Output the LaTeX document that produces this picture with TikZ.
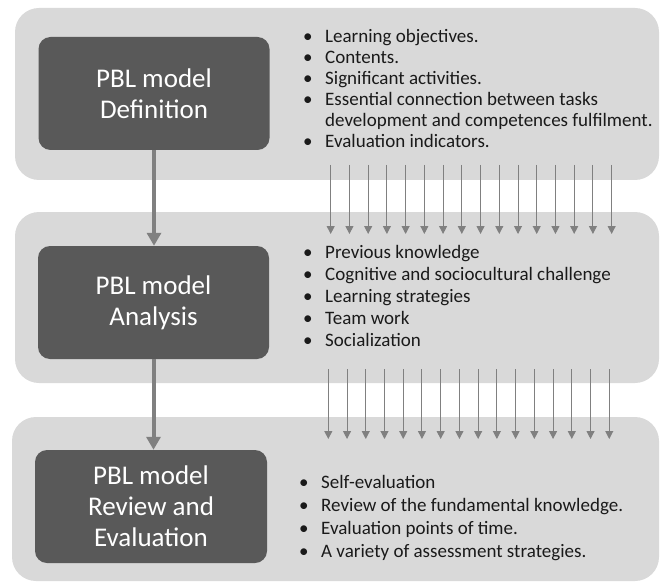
\documentclass[tikz,border=0pt]{standalone}
\usepackage{fontspec}
\setmainfont{Carlito}
\usetikzlibrary{arrows.meta}
\definecolor{panelgray}{HTML}{D9D9D9}
\definecolor{boxgray}{HTML}{595959}
\definecolor{arrowgray}{HTML}{808080}
\definecolor{textdark}{HTML}{1A1A1A}
\newcommand\mybullet{\makebox[0pt][r]{\textbullet\hspace{12.5pt}}}

\begin{document}
\begin{tikzpicture}[x=1pt,y=-1pt,
  panel/.style={fill=panelgray, rounded corners=24pt, inner sep=0pt, minimum width=644pt},
  stage/.style={fill=boxgray, rounded corners=12pt, text=white, align=center,
    font=\fontsize{27}{31}\selectfont, minimum width=231pt, minimum height=113pt, inner sep=0pt},
  flow/.style={draw=arrowgray, line width=4pt, -{Triangle[length=13pt,width=14pt]}},
  feed/.style={draw=arrowgray, line width=1pt, -{Triangle[length=8pt,width=8pt]}},
  item/.style={anchor=base west, inner sep=0pt, text=textdark, font=\fontsize{19}{22}\selectfont},
]
\useasboundingbox (0,0) rectangle (660,585);

% background panels
\node[panel, minimum height=172pt] (p1) at (337,94) {};
\node[panel, minimum height=171pt] (p2) at (337,297.5) {};
\node[panel, minimum width=647pt, minimum height=164pt] (p3) at (335.5,499) {};

% stage boxes
\node[stage] (s1) at (154,93.5) {PBL model\\Definition};
\node[stage] (s2) at (153.5,302.5) {PBL model\\Analysis};
\node[stage, minimum width=232pt] (s3) at (151,506.5) {PBL model\\Review and\\Evaluation};

% main flow
\draw[flow] (s1.south) -- (s1.south |- s2.north);
\draw[flow] (s2.south) -- (s2.south |- s3.north);

% rows of small arrows between the panels
\foreach \i in {0,...,15} {
  \coordinate (a\i) at ({330.7+18.73*\i},165);
  \coordinate (b\i) at ({330.7+18.73*\i},234);
  \draw[feed] (a\i) -- (b\i);
  \coordinate (c\i) at ({328.3+18.73*\i},369);
  \coordinate (d\i) at ({328.3+18.73*\i},439);
  \draw[feed] (c\i) -- (d\i);
}

% definition items
\node[item] (t11) at (325,43)  {\mybullet Learning objectives.};
\node[item] (t12) at (325,64)  {\mybullet Contents.};
\node[item] (t13) at (325,85)  {\mybullet Significant activities.};
\node[item] (t14) at (325,106) {\mybullet Essential connection between tasks};
\node[item] (t15) at (325,127) {development and competences fulfilment.};
\node[item] (t16) at (325,148) {\mybullet Evaluation indicators.};

% analysis items
\node[item] (t21) at (325,258) {\mybullet Previous knowledge};
\node[item] (t22) at (325,280) {\mybullet Cognitive and sociocultural challenge};
\node[item] (t23) at (325,302) {\mybullet Learning strategies};
\node[item] (t24) at (325,324) {\mybullet Team work};
\node[item] (t25) at (325,346) {\mybullet Socialization};

% review items
\node[item] (t31) at (321,488) {\mybullet Self-evaluation};
\node[item] (t32) at (321,511) {\mybullet Review of the fundamental knowledge.};
\node[item] (t33) at (321,534) {\mybullet Evaluation points of time.};
\node[item] (t34) at (321,557) {\mybullet A variety of assessment strategies.};
\end{tikzpicture}
\end{document}
